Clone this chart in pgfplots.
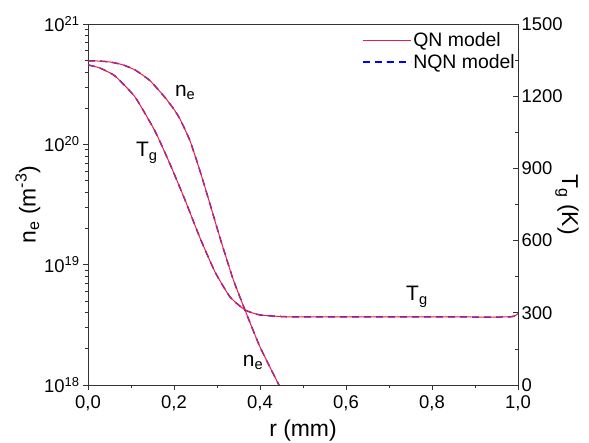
\documentclass[border=0pt]{standalone}
\usepackage{pgfplots}
\pgfplotsset{compat=1.18}
\usepackage{fontspec}
\setmainfont{Liberation Sans}
\definecolor{qnred}{RGB}{235,30,60}
\definecolor{nqnblue}{RGB}{30,30,255}
\pgfplotstableread{
r ne
0      4.93e20
0.025  4.92e20
0.0512 4.83e20
0.08   4.59e20
0.1093 4.15e20
0.1442 3.38e20
0.1791 2.45e20
0.2000 1.95e20
0.2140 1.62e20
0.2372 1.07e20
0.2605 6.00e19
0.2837 3.19e19
0.3070 1.67e19
0.3372 7.61e18
0.3651 4.20e18
0.4000 2.07e18
0.4465 9.6e17
}\nedata
\pgfplotstableread{
r Tg
0      1330
0.0279 1317
0.0628 1284
0.1093 1197
0.1558 1055
0.1907 918
0.2256 769
0.2605 611
0.2953 470
0.3302 366
0.3651 312
0.4000 291
0.4698 283
0.6    283
0.8    283
0.98   283
1.0    298
}\tgdata
\begin{document}
\begin{tikzpicture}
\path[use as bounding box] (-88bp,-58bp) rectangle (501bp,385bp);
\begin{axis}[
  scale only axis, width=430bp, height=361bp,
  at={(0,0)}, anchor=south west,
  xmin=0, xmax=1, ymode=log, ymin=1e18, ymax=1e21,
  xtick pos=left, ytick pos=left,
  tick align=outside,
  major tick length=5bp, minor tick length=3bp,
  xtick={0,0.2,0.4,0.6,0.8,1},
  minor xtick={0.1,0.3,0.5,0.7,0.9},
  xticklabel style={yshift=-2bp, /pgf/number format/.cd, fixed, fixed zerofill, precision=1, use comma, assume math mode=true},
  ytick={1e18,1e19,1e20,1e21},
  yticklabels={10\textsuperscript{18},10\textsuperscript{19},10\textsuperscript{20},10\textsuperscript{21}},
  minor ytick={2e18,3e18,4e18,5e18,6e18,7e18,8e18,9e18,2e19,3e19,4e19,5e19,6e19,7e19,8e19,9e19,2e20,3e20,4e20,5e20,6e20,7e20,8e20,9e20},
  tick label style={font=\fontsize{18.5}{18.5}\selectfont, black},
  xlabel={r (mm)}, ylabel={n\textsubscript{e} (m\textsuperscript{-3})},
  label style={font=\fontsize{23}{23}\selectfont},
  xlabel style={at={(axis description cs:0.5,-0.125)}, anchor=center},
  ylabel style={at={(axis description cs:-0.14,0.5)}, anchor=center},
  legend style={draw=none, fill=none, at={(rel axis cs:1.0,0.985)}, anchor=north east,
    font=\fontsize{19.5}{19.5}\selectfont, row sep=2bp, inner sep=1bp,
    cells={anchor=west}},
  legend cell align=left,
  legend image code/.code={\draw[mark repeat=2,mark phase=2,#1] plot coordinates {(0bp,0bp) (24bp,0bp) (48bp,0bp)};},
  axis line style={line width=0.9pt, black!80},
  every tick/.style={black!80, line width=0.7pt},
]
\addlegendimage{qnred, line width=1.1pt}
\addlegendentry{QN model}
\addlegendimage{blue, line width=1.4pt, dash pattern=on 7bp off 5bp}
\addlegendentry{NQN model}
\addplot[nqnblue, line width=1.5pt, dash pattern=on 7bp off 5bp, smooth, tension=0.3, forget plot] table[x=r, y=ne] {\nedata};
\addplot[qnred, line width=1.0pt, smooth, tension=0.3, forget plot] table[x=r, y=ne] {\nedata};
\node[font=\fontsize{21}{21}\selectfont] at (axis cs:0.226,2.7e20) {n\textsubscript{e}};
\node[font=\fontsize{21}{21}\selectfont] at (axis cs:0.137,8.5e19) {T\textsubscript{g}};
\node[font=\fontsize{21}{21}\selectfont] at (axis cs:0.765,5.4e18) {T\textsubscript{g}};
\node[font=\fontsize{21}{21}\selectfont] at (axis cs:0.384,1.55e18) {n\textsubscript{e}};
\end{axis}
\begin{axis}[
  scale only axis, width=430bp, height=361bp,
  at={(0,0)}, anchor=south west,
  xmin=0, xmax=1, ymin=0, ymax=1500,
  axis y line*=right, axis x line=none,
  tick align=inside,
  major tick length=5bp, minor tick length=3bp,
  ytick={0,300,600,900,1200,1500},
  minor ytick={150,450,750,1050,1350},
  yticklabel style={/pgf/number format/.cd, fixed, 1000 sep={}, assume math mode=true},
  tick label style={font=\fontsize{18.5}{18.5}\selectfont, black},
  ylabel={T\textsubscript{g} (K)},
  label style={font=\fontsize{23}{23}\selectfont},
  ylabel style={at={(axis description cs:1.114,0.5)}, anchor=center, rotate=180},
  axis line style={line width=0.9pt, black!80},
  every tick/.style={black!80, line width=0.7pt},
]
\addplot[nqnblue, line width=1.5pt, dash pattern=on 7bp off 5bp, smooth, tension=0.3] table[x=r, y=Tg] {\tgdata};
\addplot[qnred, line width=1.0pt, smooth, tension=0.3] table[x=r, y=Tg] {\tgdata};
\end{axis}
\end{tikzpicture}
\end{document}
